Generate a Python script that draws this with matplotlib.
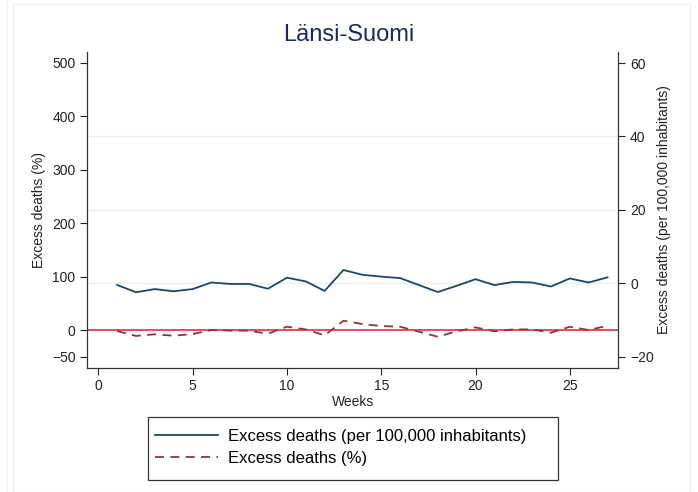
import matplotlib
matplotlib.use("Agg")
import matplotlib.pyplot as plt
from matplotlib.lines import Line2D
from matplotlib.patches import Rectangle

plt.rcParams['font.family'] = ['Liberation Sans', 'DejaVu Sans']

weeks = list(range(1, 28))
per100k = [-0.46, -2.46, -1.6, -2.2, -1.6, 0.2, -0.2, -0.2, -1.5, 1.5, 0.5, -2.1, 3.6,
           2.3, 1.8, 1.4, -0.5, -2.4, -0.7, 1.1, -0.5, 0.35, 0.2, -0.9, 1.3, 0.2, 1.6]
pct = [-1.9, -11, -8, -10.6, -7.5, 0, -1.2, -1.2, -6.9, 6.2, 1.2, -10, 17.5,
       11.2, 7.5, 6.2, -3.1, -12.5, -2.5, 5, -2.5, 1.2, 1.2, -5, 6.2, 0, 8.1]

left_ticks = [-50, 0, 100, 200, 300, 400, 500]
right_ticks = [-20, 0, 20, 40, 60]
x_ticks = [0, 5, 10, 15, 20, 25]

blue = '#1a476f'
maroon = '#90353b'
redline = '#e03040'
gridc = '#eaf1f2'
title_color = '#1a2a5c'

fig = plt.figure(figsize=(6.98, 4.92), dpi=100)
ax = fig.add_axes([87.3/698, 1-368/492, (618.3-87.3)/698, (368-52)/492])
ax2 = ax.twinx()

ax.set_xlim(-0.58, 27.57)
ax.set_ylim(-71, 520)
ax2.set_ylim(-23.1, 63)

for v in [0, 20, 40]:
    ax2.axhline(v, color=gridc, lw=1.0, zorder=0)

ax.axhline(0, color=redline, lw=1.2, zorder=2)
ax.plot(weeks, pct, color=maroon, lw=1.3, ls=(0, (5, 3.5)), zorder=3)
ax2.plot(weeks, per100k, color=blue, lw=1.3, zorder=3)

ax.set_yticks(left_ticks)
ax2.set_yticks(right_ticks)
ax.set_xticks(x_ticks)

for a in (ax, ax2):
    a.spines['top'].set_visible(False)
    for s in ('left', 'right', 'bottom'):
        a.spines[s].set_color('#333333')
        a.spines[s].set_linewidth(0.9)
    a.tick_params(labelsize=10, colors='#222222', length=5, width=0.8)
ax.spines['right'].set_visible(False)
ax.spines['left'].set_visible(False)
ax2.spines['bottom'].set_visible(False)
ax.tick_params(axis='x', pad=3)

ax.set_xlabel('Weeks', fontsize=10, color='#222222', labelpad=1)
ax.set_ylabel('Excess deaths (%)', fontsize=10, color='#222222', labelpad=4)
ax2.set_ylabel('Excess deaths (per 100,000 inhabitants)', fontsize=10, color='#222222', labelpad=2)

fig.text(0.5, 1-35/492, 'Länsi-Suomi', ha='center', va='center', fontsize=17, color=title_color)

handles = [Line2D([], [], color=blue, lw=1.3),
           Line2D([], [], color=maroon, lw=1.3, ls=(0, (5, 3.5)))]
labels = ['Excess deaths (per 100,000 inhabitants)', 'Excess deaths (%)']
leg = fig.legend(handles, labels, loc='center left', bbox_to_anchor=(155/698, 1-447.5/492),
                 fontsize=12, frameon=False, handlelength=3.8,
                 borderpad=0, labelspacing=0.45, handletextpad=0.55, borderaxespad=0)

# legend box
fig.patches.append(Rectangle((148/698, 1-480/492), (558-148)/698, 63/492, transform=fig.transFigure,
                             fill=False, edgecolor='#333333', lw=0.9))

# faint outer frame
fig.patches.append(Rectangle((13/698, 0), (690-13)/698, 1-4/492, transform=fig.transFigure,
                             fill=False, edgecolor='#f0f0f0', lw=1))
fig.patches.append(Rectangle((7/698, 0), 0, 1, transform=fig.transFigure,
                             fill=False, edgecolor='#f3f3f3', lw=1))

fig.savefig('out.png', dpi=100, facecolor='white')
